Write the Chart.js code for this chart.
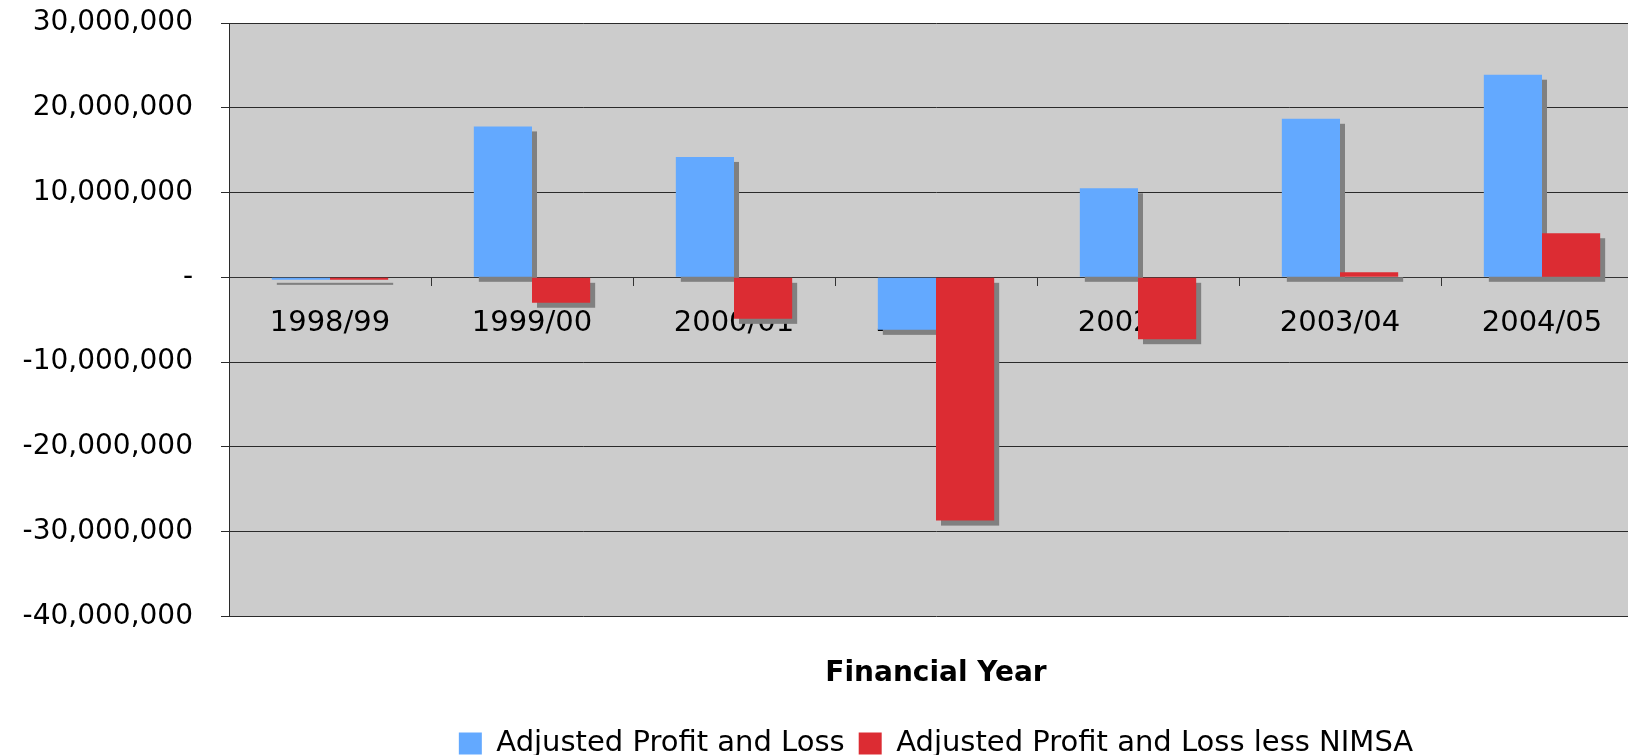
<!DOCTYPE html>
<html>
<head>
<meta charset="utf-8">
<script src="https://cdn.jsdelivr.net/npm/chart.js@4/dist/chart.umd.min.js"></script>
<style>
  html, body { margin: 0; padding: 0; background: #fff; overflow: hidden; }
  #wrap { width: 1650px; height: 755px; }
</style>
</head>
<body>
<div id="wrap"><canvas id="chart"></canvas></div>
<script>
const years = ['1998/99', '1999/00', '2000/01', '2001/02', '2002/03', '2003/04', '2004/05'];
const adjustedPL = [-300000, 17800000, 14200000, -6200000, 10500000, 18700000, 23900000];
const adjustedPLLessNimsa = [-300000, -3000000, -4900000, -28700000, -7300000, 600000, 5200000];
const yTicks = [-40000000, -30000000, -20000000, -10000000, 0, 10000000, 20000000, 30000000];

const BLUE = '#63a9ff';
const RED = '#dc2c33';
const SHADOW = '#808080';
const FONT_FAMILY = "'DejaVu Sans', Verdana, sans-serif";

// grey drop shadow behind every bar, taken from the bar elements themselves
const barShadow = {
  id: 'barShadow',
  beforeDatasetsDraw(chart) {
    const ctx = chart.ctx;
    ctx.save();
    ctx.fillStyle = SHADOW;
    chart.data.datasets.forEach((ds, i) => {
      chart.getDatasetMeta(i).data.forEach(bar => {
        const p = bar.getProps(['x', 'y', 'base', 'width'], true);
        const top = Math.min(p.y, p.base);
        const h = Math.abs(p.base - p.y);
        ctx.fillRect(p.x - p.width / 2 + 5, top + 5, p.width, h);
      });
    });
    ctx.restore();
  }
};

// grey plot area
const plotBg = {
  id: 'plotBg',
  beforeDraw(chart) {
    const a = chart.chartArea;
    chart.ctx.save();
    chart.ctx.fillStyle = '#cccccc';
    chart.ctx.fillRect(a.left, a.top, a.right - a.left, a.bottom - a.top);
    chart.ctx.restore();
  }
};

new Chart(document.getElementById('chart'), {
  type: 'bar',
  data: {
    labels: years,
    datasets: [
      { label: 'Adjusted Profit and Loss', data: adjustedPL, backgroundColor: BLUE, borderWidth: 0 },
      { label: 'Adjusted Profit and Loss less NIMSA', data: adjustedPLLessNimsa, backgroundColor: RED, borderWidth: 0 }
    ]
  },
  options: {
    responsive: true,
    maintainAspectRatio: false,
    animation: false,
    categoryPercentage: 0.576,
    barPercentage: 1,
    layout: { padding: { top: 23, left: 0, right: 7, bottom: -13 } },
    scales: {
      x: {
        position: { y: 0 },
        offset: true,
        grid: { drawOnChartArea: false, offset: true, tickLength: 8, color: '#333' },
        border: { color: '#333' },
        ticks: { color: '#000', padding: 21, maxRotation: 0, autoSkip: false, font: { family: FONT_FAMILY, size: 29 } }
      },
      y: {
        min: yTicks[0],
        max: yTicks[yTicks.length - 1],
        afterBuildTicks: axis => { axis.ticks = yTicks.map(v => ({ value: v })); },
        afterFit: axis => {
          axis.width = 229;
          axis.paddingTop = 0;
          axis.paddingBottom = 0;
        },
        grid: { color: '#2a2a2a', tickLength: 8 },
        border: { color: '#2a2a2a' },
        ticks: {
          color: '#000',
          padding: 28,
          font: { family: FONT_FAMILY, size: 28 },
          callback: v => v === 0 ? '-' : v.toLocaleString('en-US')
        }
      }
    },
    plugins: {
      tooltip: { enabled: false },
      title: {
        display: true,
        text: 'Financial Year',
        position: 'bottom',
        fullSize: false,
        weight: 500,
        color: '#000',
        font: { family: FONT_FAMILY, size: 28, weight: 'bold' },
        padding: { top: 41, bottom: 24 }
      },
      legend: {
        position: 'bottom',
        fullSize: false,
        labels: {
          color: '#000',
          boxWidth: 23,
          boxHeight: 22,
          padding: 14,
          font: { family: FONT_FAMILY, size: 29 }
        }
      }
    }
  },
  plugins: [plotBg, barShadow]
});
</script>
</body>
</html>
